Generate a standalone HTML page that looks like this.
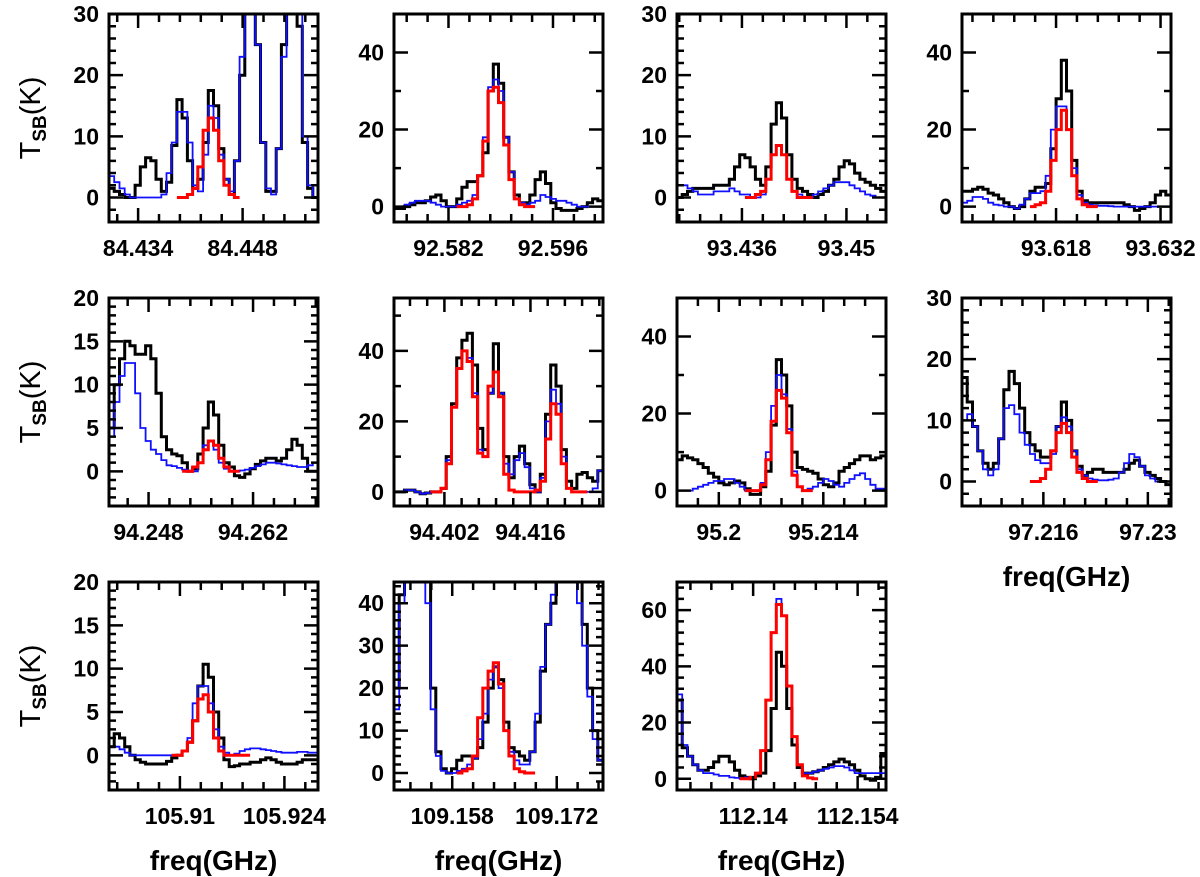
<!DOCTYPE html>
<html><head><meta charset="utf-8"><style>
html,body{margin:0;padding:0;background:#fff;}
svg{display:block;font-family:"Liberation Sans",sans-serif;}
</style></head><body>
<svg id="fig" width="1200" height="877" viewBox="0 0 1200 877" xmlns="http://www.w3.org/2000/svg"></svg>
<script>
// ---- data (T_SB in K per channel) ----
const p1Black=[1.5,1,0.5,0,0,2,5,6.5,6,3,1,2.5,8.5,16,13,6,1.5,3,9,17.5,15,8,3,0.5,6,20,32,32,25,9,1,1,8,25,32,32,28,9,1.5,0];
const p1Blue=[3.5,2.5,1.5,0.5,0,0,0,0,0,0,0.5,4,9,14,14,9,2,1,7,15,13,7,3,1,6,23,30,32,25,9,1.5,0.5,8,23,32,32,30,10,2,0];
const p1Red=[null,null,null,null,null,null,null,null,null,null,null,null,null,0,0,0.5,1.5,5,11,13,11,6,2,0.5,0,null,null,null,null,null,null,null,null,null,null,null,null,null,null,null];
const p2Black=[-0.5,-0.5,0,0.5,1,1,1.5,2.5,3,1.5,0,0,2,5,6.5,6.5,8,14,30,37,32,18,9,3,1,1,3,7,9,6,1,-0.5,-1,-1,-1,-0.5,0,1,2,1.5];
const p2Blue=[0,0,0.5,1,1.5,1.5,1.5,1,0.5,0,0,0,0.5,1,1.5,3,8,18,31,33,30,18,9,2,1,0.5,1,1.5,3,2.5,2,1.5,1.5,1,0.5,0,0,0,0,0];
const p2Red=[null,null,null,null,null,null,null,null,null,null,null,null,0,0,0.5,2,8,17,30,31,27,16,7,2,0.5,0,0,null,null,null,null,null,null,null,null,null,null,null,null,null];
const p3Black=[0,0.5,1,1.5,1.5,1.5,1.5,2,2,2,3,5,7,6.5,5,3,2,5,12,15.5,13,7,3,1.5,1,0.5,0,0.5,1,2,3,5,6,5.5,4,3,2.5,2,1.5,1];
const p3Blue=[2,2,1.5,1,0.5,0.5,0.5,1,1,1,1.5,1,0.5,0.5,0,0,0.5,3,7,8.5,7,3,1,0.5,0,0,0.5,1,1.5,2,2.5,2.5,2.5,2,1.5,1,0.5,0.3,0,0];
const p3Red=[null,null,null,null,null,null,null,null,null,null,null,null,null,0,0,0.5,1,3,7,8.5,7,3,1,0,0,0,null,null,null,null,null,null,null,null,null,null,null,null,null,null];
const p4Black=[4,4,4.5,5,4.5,3.5,3,2,1,0,-0.5,0,2,4,5,5,6,15,28,38,30,12,4,1.5,1,1,1,1,1,1,1,0.5,0,-1,-0.5,0,1,3,4,3];
const p4Blue=[1,1.5,2.5,2.5,2,1,0.5,0.3,0,0,-0.5,0.5,2,3.5,3.5,4,8,20,26,26,20,10,3,1,0.5,0.3,0.2,0.2,0.1,0,0,0,0,0,0,0,0,0,0,0];
const p4Red=[null,null,null,null,null,null,null,null,null,null,null,null,null,0,0.5,1,4,12,20,25,20,8,2,0.5,0,0,null,null,null,null,null,null,null,null,null,null,null,null,null,null];
const p5Black=[5,10,13,15,14.5,13.5,13.5,14.5,13,9,4,2.5,2,1.8,1,0,0.3,2,5,8,6.5,3,1,0.5,-0.5,-0.7,-0.3,0.3,0.8,1.2,1.5,1.5,1.2,1.5,2.5,3.7,3,1.5,0,0];
const p5Blue=[4,8,11,12.5,12.5,9,5,3.5,2.5,2,1.3,0.7,0.6,0.4,0.2,0,0,1,3,3.5,2.5,1,0.3,0,0,0.1,0.2,0.4,0.6,0.8,1,1,0.9,0.8,0.7,0.6,0.5,0.5,0.7,1];
const p5Red=[null,null,null,null,null,null,null,null,null,null,null,null,null,null,0,0,0.5,1,2.5,3.5,3,1.5,0.5,0,0,null,null,null,null,null,null,null,null,null,null,null,null,null,null,null];
const p6Black=[0,0,0.5,0.5,0,-0.5,-0.3,0,0,1,10,25,38,43,45,36,18,12,28,42,28,10,4,10,13,8,2,0,5,22,36,30,12,3,1,5,5.5,4,3,6];
const p6Blue=[0,0,0.5,0.5,0,-0.5,-0.3,0,0,1,9,24,35,40,38,28,12,10,28,34,28,8,5,9,11,7,1,0,4,20,29,25,10,1,0,0,0,0,1,6];
const p6Red=[null,null,null,null,null,null,null,0,0,1,8,24,35,40,37,27,11,10,30,34,27,5,0.5,0,0,0,0,0.5,3,15,25,22,8,1,0,0,0,null,null,null];
const p7Black=[8,9,8.5,8,7,6,4.5,3.5,2,1.5,2,2.5,2,0.5,-1,-1,1,5,17,34,30,22,10,6,5.5,5,4.5,3,1.5,1,2,5,6,7,8,9,9,8,8.5,9];
const p7Blue=[0,0,0,0.5,1,1.5,2,2.5,2.5,3,3,2,1,0,0,0,2,10,22,30,25,16,5,1,0,0.5,1,2,3,2.5,1.5,1,2,3,4,4.5,3,1.5,0.5,0.5];
const p7Red=[null,null,null,null,null,null,null,null,null,null,null,null,null,0,0,0,1.5,8,18,26,24,15,4,1,0,0,null,null,null,null,null,null,null,null,null,null,null,null,null,null];
const p8Black=[17,13,9,5,3,2,3,7,15,18,16,12,8,6,5,4,4,5,9,13,10,5,2.5,1,1.5,2,2,1.5,1.5,1.5,1.5,2,3,3.5,2.5,1.5,1,0.5,0,-0.5];
const p8Blue=[10,11,9,5,2,1,2,7,12,12.5,11,8,6,4.5,3.5,3,3,4.5,9,10.5,9,5,2,1,0.5,0.3,0.2,0.2,0.3,0.5,1.5,3,4.5,4,2.5,1,0.5,0,0,0];
const p8Red=[null,null,null,null,null,null,null,null,null,null,null,null,null,0,0,0.5,2,5,8,9.5,8,4,1.5,0.5,0,0,null,null,null,null,null,null,null,null,null,null,null,null,null,null];
const p9Black=[1,2.5,2,1,0,-0.5,-0.8,-1,-1,-1,-1,-0.7,-0.3,0,0.5,1.5,4,8,10.5,9,5,2,-0.5,-1.3,-1.2,-1,-1,-0.8,-0.8,-0.5,-0.3,-0.5,-0.8,-1,-1,-1,-0.8,-0.5,-0.5,-0.5];
const p9Blue=[1,1,0.7,0.3,0,0,0,0,0,0,0,0,0,0,0.5,2,6,8,8,6,3,1,0.3,0,0.2,0.5,0.7,0.8,0.8,0.7,0.6,0.5,0.4,0.3,0.3,0.3,0.4,0.4,0.3,0.3];
const p9Red=[null,null,null,null,null,null,null,null,null,null,null,null,0,0,0.5,1.5,4,6.5,7,5,2,0.5,0,0,0,0,0,null,null,null,null,null,null,null,null,null,null,null,null,null];
const p10Black=[20,42,50,50,50,50,45,20,5,1,0,1,3,4,4,3.5,6,12,20,25,22,12,6,5,4,3,5,12,24,35,40,45,50,50,50,45,35,20,10,3];
const p10Blue=[15,40,50,50,50,50,40,15,4,0.5,0,0,0.5,1,2,3.5,8,14,22,25,20,10,5,3,2,2,5,14,25,35,42,47,50,50,50,40,30,18,8,3];
const p10Red=[null,null,null,null,null,null,null,null,null,null,null,null,0,0.5,1,4,13,20,24,26,21,10,4,1,0.3,0,0,null,null,null,null,null,null,null,null,null,null,null,null,null];
const p11Black=[28,11,8,5,3,3,4,6,8,8,6,3,1,0.5,0,1,2,10,25,45,40,25,12,4,2,2,2.5,3,4,5,6,7,6,5,3,1,0,-0.5,0.5,9];
const p11Blue=[30,12,8,5,3,2,2,1.5,1,1,0.5,0.3,0,0.5,0.5,2,10,28,52,64,58,33,15,5,2,2,2.5,3,3.5,4,4.5,4.5,4,3,2,2,2,2,2,2];
const p11Red=[null,null,null,null,null,null,null,null,null,null,null,null,0,0,0.5,2,10,28,52,62,58,33,15,5,1,0.3,0,null,null,null,null,null,null,null,null,null,null,null,null,null];
// x tick labels (GHz)
const p1Ticks=["84.434","84.448"];
const p2Ticks=["92.582","92.596"];
const p3Ticks=["93.436","93.45"];
const p4Ticks=["93.618","93.632"];
const p5Ticks=["94.248","94.262"];
const p6Ticks=["94.402","94.416"];
const p7Ticks=["95.2","95.214"];
const p8Ticks=["97.216","97.23"];
const p9Ticks=["105.91","105.924"];
const p10Ticks=["109.158","109.172"];
const p11Ticks=["112.14","112.154"];
// x-axis start frequencies (GHz) and spans
const xStarts=[84.4301,92.5747,93.4273,93.6054,94.2427,94.3938,95.1944,97.2051,105.9005,109.1502,112.1298];
const xSpans=[0.028,0.028,0.028,0.028,0.028,0.034,0.028,0.028,0.028,0.028,0.028];
const yMaxes=[30,50,30,50,20,55,50,30,20,45,70];

const panels=[
 {c:0,r:0,k:p1Black,b:p1Blue,rd:p1Red,t:p1Ticks,maj:10,min:2},
 {c:1,r:0,k:p2Black,b:p2Blue,rd:p2Red,t:p2Ticks,maj:20,min:10},
 {c:2,r:0,k:p3Black,b:p3Blue,rd:p3Red,t:p3Ticks,maj:10,min:2},
 {c:3,r:0,k:p4Black,b:p4Blue,rd:p4Red,t:p4Ticks,maj:20,min:10},
 {c:0,r:1,k:p5Black,b:p5Blue,rd:p5Red,t:p5Ticks,maj:5,min:1},
 {c:1,r:1,k:p6Black,b:p6Blue,rd:p6Red,t:p6Ticks,maj:20,min:10},
 {c:2,r:1,k:p7Black,b:p7Blue,rd:p7Red,t:p7Ticks,maj:20,min:10},
 {c:3,r:1,k:p8Black,b:p8Blue,rd:p8Red,t:p8Ticks,maj:10,min:2},
 {c:0,r:2,k:p9Black,b:p9Blue,rd:p9Red,t:p9Ticks,maj:5,min:1},
 {c:1,r:2,k:p10Black,b:p10Blue,rd:p10Red,t:p10Ticks,maj:10,min:2},
 {c:2,r:2,k:p11Black,b:p11Blue,rd:p11Red,t:p11Ticks,maj:20,min:4}
];
const colX=[109,394,677,962], rowY=[14,298,582], W=209, H=208, YMIN=-4;
const NS="http://www.w3.org/2000/svg";
const svg=document.getElementById('fig');
function mk(tag,attrs,parent){const e=document.createElementNS(NS,tag);for(const a in attrs)e.setAttribute(a,attrs[a]);(parent||svg).appendChild(e);return e;}

panels.forEach((p,i)=>{
  const x0=colX[p.c], y0=rowY[p.r];
  const xmin=xStarts[i], span=xSpans[i], ymax=yMaxes[i];
  const sx=v=>x0+(v-xmin)/span*W;
  const sy=v=>y0+H-(v-YMIN)/(ymax-YMIN)*H;
  const g=mk('g',{});
  
  
  const cp=mk('clipPath',{id:'cp'+i},g);
  mk('rect',{x:x0,y:y0,width:W,height:H},cp);
  const n=p.k.length, dx=span/n;
  function stepPath(arr){
    let d='',pen=false;
    for(let j=0;j<n;j++){
      const v=arr[j];
      if(v===null||v===undefined){pen=false;continue;}
      const xa=sx(xmin+j*dx), xb=sx(xmin+(j+1)*dx), y=sy(v);
      d+=(pen?'L':'M')+xa.toFixed(1)+','+y.toFixed(1)+'L'+xb.toFixed(1)+','+y.toFixed(1);
      pen=true;
    }
    return d;
  }
  const lk=mk('path',{d:stepPath(p.k),fill:'none',stroke:'#000','stroke-width':3,'stroke-linejoin':'miter','clip-path':'url(#cp'+i+')'},g);
  
  
  const lb=mk('path',{d:stepPath(p.b),fill:'none',stroke:'#1010ff','stroke-width':1.8,'clip-path':'url(#cp'+i+')'},g);
  
  
  const lr=mk('path',{d:stepPath(p.rd),fill:'none',stroke:'#ff0000','stroke-width':3,'clip-path':'url(#cp'+i+')'},g);
  
  
  const fr=mk('rect',{x:x0,y:y0,width:W,height:H,fill:'none',stroke:'#000','stroke-width':3},g);
  
  
  let tk='';
  for(let v=Math.ceil(YMIN/p.min)*p.min; v<=ymax+1e-9; v+=p.min){
    const isMaj=Math.abs(v/p.maj-Math.round(v/p.maj))<1e-6, L=isMaj?14:7, y=sy(v);
    tk+='M'+x0+','+y+'h'+L+'M'+(x0+W)+','+y+'h'+(-L);
    if(isMaj&&v>=0){
      const tl=mk('text',{x:x0-10,y:y+8,'text-anchor':'end','font-size':23,'font-weight':'bold',fill:'#000'},g);
      tl.textContent=String(v);
      
      
    }
  }
  const f0=parseFloat(p.t[0]), mstep=0.0028;
  for(let k=-20;k<=20;k++){
    const v=f0+k*mstep;
    if(v<xmin-1e-9||v>xmin+span+1e-9)continue;
    const isMaj=(k%5===0), L=isMaj?14:8, x=sx(v);
    tk+='M'+x+','+(y0+H)+'v'+(-L)+'M'+x+','+y0+'v'+L;
  }
  const tp=mk('path',{d:tk,stroke:'#000','stroke-width':2.5,fill:'none'},g);
  
  
  p.t.forEach(s=>{
    const xl=mk('text',{x:sx(parseFloat(s)),y:y0+H+34,'text-anchor':'middle','font-size':23,'font-weight':'bold',fill:'#000'},g);
    xl.textContent=s;
    
    
  });
  if(p.r===2||i===7){
    const ft=mk('text',{x:x0+W/2,y:y0+H+80,'text-anchor':'middle','font-size':28,'font-weight':'bold',fill:'#000'},g);
    ft.textContent='freq(GHz)';
    
    
  }
});
rowY.forEach(y=>{
  const t=mk('text',{transform:'translate(40,'+(y+H/2)+') rotate(-90)','text-anchor':'middle','font-size':29,fill:'#000'});
  
  
  t.appendChild(document.createTextNode('T'));
  const s=mk('tspan',{'font-size':19,dy:6,'font-weight':'bold'},t);s.textContent='SB';
  const r=mk('tspan',{dy:-6},t);r.textContent='(K)';
});
</script>
</body></html>
